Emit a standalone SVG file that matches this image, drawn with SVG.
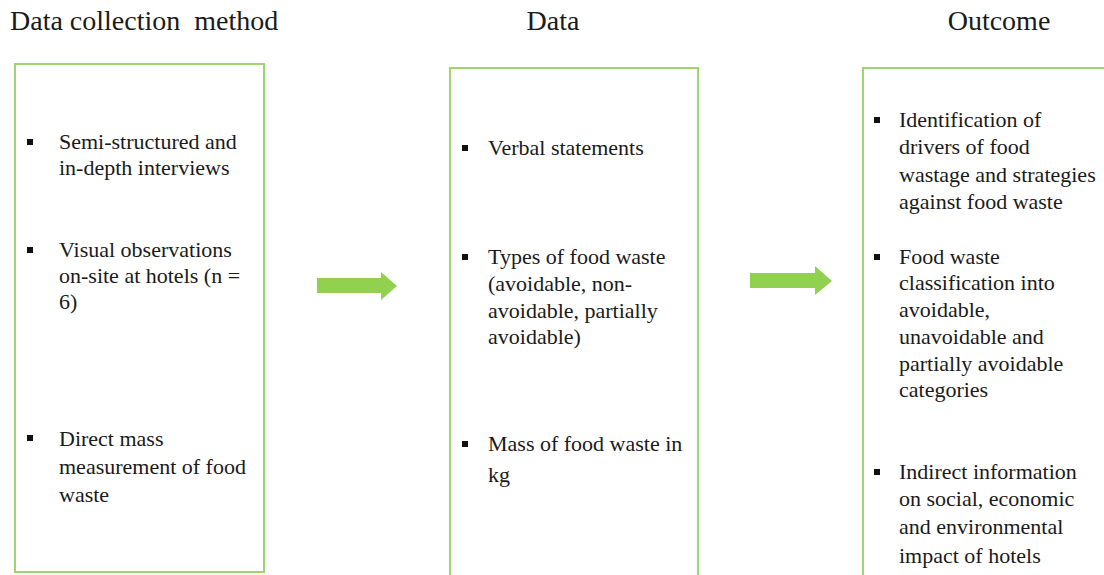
<svg xmlns="http://www.w3.org/2000/svg" width="1104" height="575" viewBox="0 0 1104 575">
<style>
.box{fill:#ffffff;stroke:#9fd56f;stroke-width:2}
.title{font-family:"Liberation Serif","Times New Roman",serif;font-size:28px;fill:#1a1a1a}
.t{font-family:"Liberation Serif","Times New Roman",serif;font-size:22px;fill:#1a1a1a}
.bul{fill:#111111}
.arrow{fill:#92d050}
</style>
<rect width="1104" height="575" fill="#ffffff"/>
<g id="titles">
<text class="title" x="10" y="30" xml:space="preserve">Data collection  method</text>
<text class="title" x="553" y="30" text-anchor="middle">Data</text>
<text class="title" x="999" y="30" text-anchor="middle">Outcome</text>
</g>
<g id="node-methods">
<rect class="box" x="15" y="64" width="249" height="508"/>
<rect class="bul" x="27" y="139" width="6" height="6"/>
<text class="t" x="59" y="149">Semi-structured and</text>
<text class="t" x="59" y="175">in-depth interviews</text>
<rect class="bul" x="27" y="247" width="6" height="6"/>
<text class="t" x="59" y="257">Visual observations</text>
<text class="t" x="59" y="283">on-site at hotels (n =</text>
<text class="t" x="59" y="309">6)</text>
<rect class="bul" x="27" y="435" width="6" height="6"/>
<text class="t" x="59" y="446">Direct mass</text>
<text class="t" x="59" y="474">measurement of food</text>
<text class="t" x="59" y="502">waste</text>
</g>
<g id="node-data">
<rect class="box" x="450" y="68" width="248" height="520"/>
<rect class="bul" x="462" y="145" width="6" height="6"/>
<text class="t" x="488" y="155">Verbal statements</text>
<rect class="bul" x="462" y="254" width="6" height="6"/>
<text class="t" x="488" y="264">Types of food waste</text>
<text class="t" x="488" y="291">(avoidable, non-</text>
<text class="t" x="488" y="318">avoidable, partially</text>
<text class="t" x="488" y="344">avoidable)</text>
<rect class="bul" x="462" y="441" width="6" height="6"/>
<text class="t" x="488" y="451">Mass of food waste in</text>
<text class="t" x="488" y="482">kg</text>
</g>
<g id="node-outcome">
<rect class="box" x="863" y="68" width="260" height="520"/>
<rect class="bul" x="874" y="117" width="6" height="6"/>
<text class="t" x="899" y="127">Identification of</text>
<text class="t" x="899" y="154">drivers of food</text>
<text class="t" x="899" y="182">wastage and strategies</text>
<text class="t" x="899" y="209">against food waste</text>
<rect class="bul" x="874" y="254" width="6" height="6"/>
<text class="t" x="899" y="264">Food waste</text>
<text class="t" x="899" y="290">classification into</text>
<text class="t" x="899" y="317">avoidable,</text>
<text class="t" x="899" y="344">unavoidable and</text>
<text class="t" x="899" y="371">partially avoidable</text>
<text class="t" x="899" y="397">categories</text>
<rect class="bul" x="874" y="469" width="6" height="6"/>
<text class="t" x="899" y="479">Indirect information</text>
<text class="t" x="899" y="506">on social, economic</text>
<text class="t" x="899" y="534">and environmental</text>
<text class="t" x="899" y="563">impact of hotels</text>
</g>
<g id="connectors">
<polygon class="arrow" points="317,278 381,278 381,272 397,286 381,300 381,293 317,293"/>
<polygon class="arrow" points="750,273 815,273 815,266 832,281 815,295 815,288 750,288"/>
</g>
</svg>
